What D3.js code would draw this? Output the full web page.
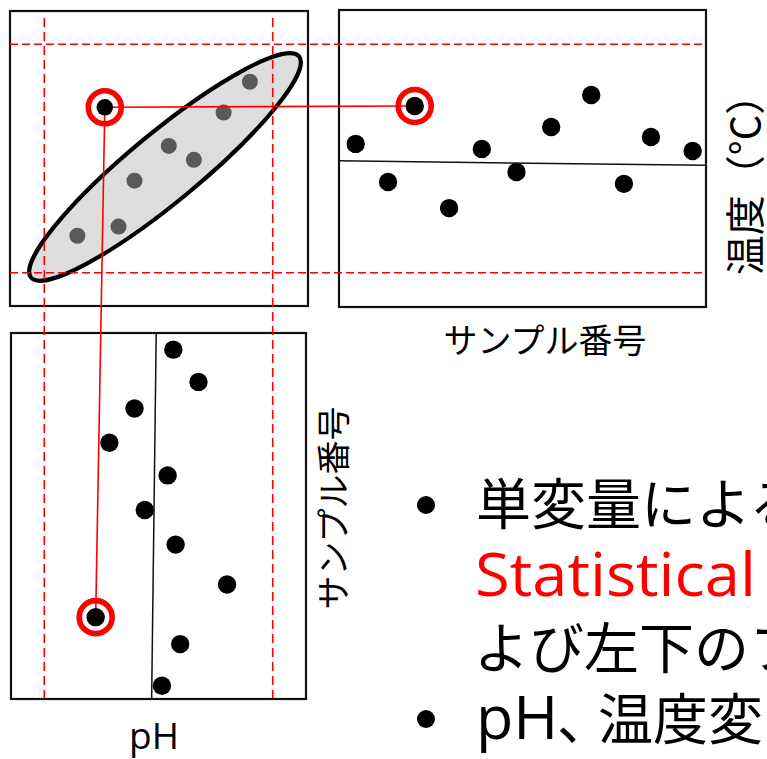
<!DOCTYPE html>
<html>
<head>
<meta charset="utf-8">
<script src="https://cdn.jsdelivr.net/npm/d3@7"></script>
<style>
  html, body { margin: 0; padding: 0; background: #fff; }
  svg { display: block; }
</style>
</head>
<body>
<script>
// Sample positions along the sample-number axis (shared by both run charts)
const sampleNo = [1.0, 1.97, 2.77, 3.8, 4.78, 5.82, 6.86, 8.06, 9.04, 9.85, 11.1];

// Temperature per sample (upper-right run chart)
const tempValues = [25.64, 23.97, 27.30, 22.83, 25.42, 24.41, 26.38, 27.78, 23.89, 25.94, 25.33];
const tempOutlier = 2;

// pH per sample (lower-left run chart)
const phValues = [7.13, 7.35, 6.79, 6.57, 7.08, 6.88, 7.15, 7.60, 6.45, 7.19, 7.03];
const phOutlier = 8;

// pH vs temperature scatter
const scatterPH   = [6.29, 6.65, 6.79, 7.09, 7.31, 7.57, 7.80];
const scatterTemp = [21.62, 22.02, 24.03, 25.55, 24.94, 27.01, 28.36];
const outlierPH = 6.53;
const outlierTemp = 27.24;

// Control limits and centre lines (centre line given at first / last sample)
const phLimits = [6.0, 8.0];
const tempLimits = [20, 30];
const phCentre = [6.98, 6.94];
const tempCentre = [24.9, 24.7];

// Correlation ellipse: centre, end of the major axis, minor/major ratio
const ellipseCentre = [7.057, 24.63];
const ellipseTip = [8.23, 29.47];
const ellipseRatio = 0.2;

// Text
const labelSample = "サンプル番号";
const labelPH = "pH";
const labelTemp = "温度（°C）";
const bodyLines = ["単変量による", "Statistical", "よび左下のフ", "pH", "、", "温度変"];

const RED = "#ff0000";
const JP = "'Noto Sans CJK JP', 'Noto Sans', sans-serif";
const LAT = "'Open Sans', 'Noto Sans', sans-serif";

const svg = d3.select("body").append("svg")
  .attr("width", 767).attr("height", 759);

// Scales
const x  = d3.scaleLinear().domain([5.7, 8.3]).range([10, 307]);    // pH
const y  = d3.scaleLinear().domain([18.5, 31.5]).range([307, 10]);  // temperature
const sx = d3.scaleLinear().domain([0.5, 11.5]).range([339, 706]);  // sample no. (upper right)
const sy = d3.scaleLinear().domain([0.5, 11.5]).range([333, 699]);  // sample no. (lower left)

// Panel frames
const frames = [
  [10, 11, 298, 295],
  [339, 10, 367, 297],
  [11, 333, 295, 366]
];
svg.append("g").selectAll("rect").data(frames).join("rect")
  .attr("x", d => d[0]).attr("y", d => d[1])
  .attr("width", d => d[2]).attr("height", d => d[3])
  .attr("fill", "#fff").attr("stroke", "#111").attr("stroke-width", 2.2);

// Correlation ellipse
{
  const cx = x(ellipseCentre[0]), cy = y(ellipseCentre[1]);
  const tx = x(ellipseTip[0]), ty = y(ellipseTip[1]);
  const rx = Math.hypot(tx - cx, ty - cy);
  const ang = Math.atan2(ty - cy, tx - cx) * 180 / Math.PI;
  svg.append("ellipse")
    .attr("transform", `translate(${cx},${cy}) rotate(${ang})`)
    .attr("rx", rx).attr("ry", rx * ellipseRatio)
    .attr("fill", "#dddddd").attr("stroke", "#000").attr("stroke-width", 4.2);
}

// Control limits (dashed)
const lim = svg.append("g").attr("stroke", RED).attr("stroke-width", 1.6).attr("fill", "none");
lim.selectAll("line.t").data(tempLimits).join("line").attr("class", "t")
  .attr("x1", 10).attr("x2", 705)
  .attr("y1", d => y(d)).attr("y2", d => y(d))
  .attr("stroke-dasharray", "8,4");
lim.selectAll("line.p").data(phLimits).join("line").attr("class", "p")
  .attr("x1", d => x(d)).attr("x2", d => x(d))
  .attr("y1", 18).attr("y2", 698)
  .attr("stroke-dasharray", "9,5");

// Centre lines of the run charts
svg.append("line")
  .attr("x1", sx(0.5)).attr("y1", y(tempCentre[0]))
  .attr("x2", sx(11.5)).attr("y2", y(tempCentre[1]))
  .attr("stroke", "#111").attr("stroke-width", 1.5);
svg.append("line")
  .attr("x1", x(phCentre[0])).attr("y1", sy(0.5))
  .attr("x2", x(phCentre[1])).attr("y2", sy(11.5))
  .attr("stroke", "#111").attr("stroke-width", 1.5);

// Scatter points
svg.append("g").selectAll("circle").data(d3.range(scatterPH.length)).join("circle")
  .attr("cx", i => x(scatterPH[i])).attr("cy", i => y(scatterTemp[i]))
  .attr("r", 8).attr("fill", "#595959");

// Lines tying the outlier to its samples in the run charts
const ox = x(outlierPH), oy = y(outlierTemp);
const link = svg.append("g").attr("stroke", RED).attr("stroke-width", 1.6);
link.append("line")
  .attr("x1", ox).attr("y1", oy)
  .attr("x2", sx(sampleNo[tempOutlier])).attr("y2", y(tempValues[tempOutlier]));
link.append("line")
  .attr("x1", ox).attr("y1", oy)
  .attr("x2", x(phValues[phOutlier])).attr("y2", sy(sampleNo[phOutlier]));

// Run-chart points
svg.append("g").selectAll("circle").data(tempValues).join("circle")
  .attr("cx", (d, i) => sx(sampleNo[i])).attr("cy", d => y(d))
  .attr("r", 9.2).attr("fill", "#000");
svg.append("g").selectAll("circle").data(phValues).join("circle")
  .attr("cx", d => x(d)).attr("cy", (d, i) => sy(sampleNo[i]))
  .attr("r", 9.2).attr("fill", "#000");

// Outlier point and its highlight rings
svg.append("circle").attr("cx", ox).attr("cy", oy).attr("r", 8.3).attr("fill", "#000");
const rings = [
  [ox, oy],
  [sx(sampleNo[tempOutlier]), y(tempValues[tempOutlier])],
  [x(phValues[phOutlier]), sy(sampleNo[phOutlier])]
];
svg.append("g").selectAll("circle").data(rings).join("circle")
  .attr("cx", d => d[0]).attr("cy", d => d[1])
  .attr("r", 16.5).attr("fill", "none")
  .attr("stroke", RED).attr("stroke-width", 5.6);

// Axis titles
svg.append("text")
  .attr("x", 545).attr("y", 353).attr("text-anchor", "middle")
  .attr("font-family", JP).attr("font-size", 34).attr("fill", "#000")
  .text(labelSample);
svg.append("text")
  .attr("x", 154).attr("y", 749).attr("text-anchor", "middle")
  .attr("font-family", LAT).attr("font-size", 37).attr("fill", "#000")
  .text(labelPH);
svg.append("text")
  .attr("transform", "translate(346,508) rotate(-90)").attr("text-anchor", "middle")
  .attr("font-family", JP).attr("font-size", 34).attr("fill", "#000")
  .text(labelSample);
svg.append("text")
  .attr("transform", "translate(760,175) rotate(-90)").attr("text-anchor", "middle")
  .attr("font-family", JP).attr("font-size", 40).attr("fill", "#000")
  .text(labelTemp);

// Bullet text
const body = svg.append("g");
body.selectAll("circle").data([505, 719]).join("circle")
  .attr("cx", 426).attr("cy", d => d).attr("r", 9).attr("fill", "#000");
body.append("text").attr("x", 476).attr("y", 524)
  .attr("font-family", JP).attr("font-size", 55).attr("fill", "#000")
  .text(bodyLines[0]);
body.append("text").attr("x", 475).attr("y", 596)
  .attr("font-family", LAT).attr("font-size", 61).attr("fill", RED)
  .attr("textLength", 281).attr("lengthAdjust", "spacingAndGlyphs")
  .text(bodyLines[1]);
body.append("text").attr("x", 474).attr("y", 668)
  .attr("font-family", JP).attr("font-size", 55).attr("fill", "#000")
  .text(bodyLines[2]);
const l4 = body.append("text").attr("y", 739).attr("fill", "#000");
l4.append("tspan").attr("x", 476)
  .attr("font-family", LAT).attr("font-size", 61).text(bodyLines[3]);
l4.append("tspan").attr("x", 557)
  .attr("font-family", JP).attr("font-size", 55).text(bodyLines[4]);
l4.append("tspan").attr("x", 598)
  .attr("font-family", JP).attr("font-size", 55).text(bodyLines[5]);
</script>
</body>
</html>
